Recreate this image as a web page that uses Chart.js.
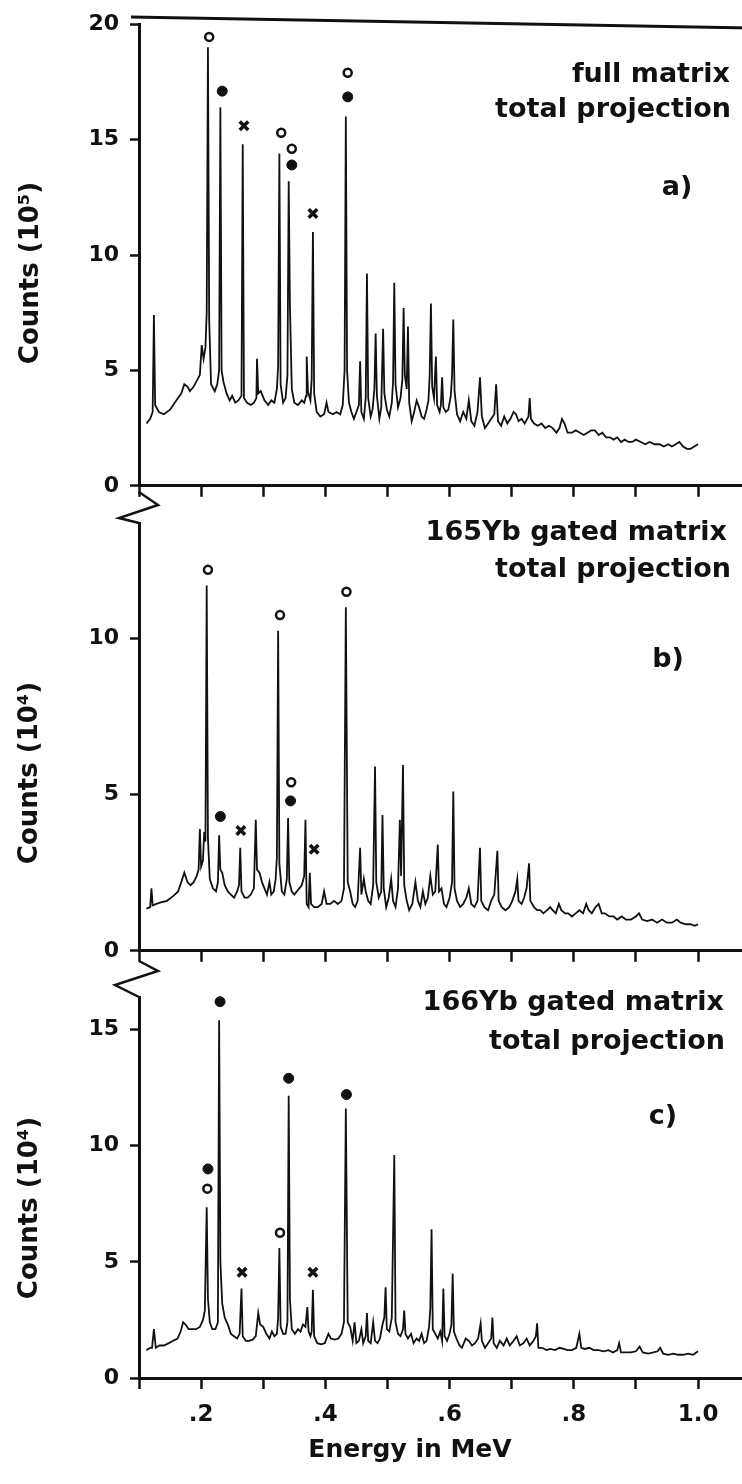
<!DOCTYPE html>
<html><head><meta charset="utf-8">
<script src="https://cdn.jsdelivr.net/npm/chart.js@4.4.1/dist/chart.umd.min.js"></script>
<style>
html,body{margin:0;padding:0;background:#fff;}
body{width:742px;height:1484px;position:relative;overflow:hidden;}
canvas{position:absolute;left:0;}
</style></head><body>
<canvas id="ca" width="751" height="510" style="top:0px"></canvas>
<canvas id="cb" width="751" height="495" style="top:480px"></canvas>
<canvas id="cc" width="751" height="534" style="top:950px"></canvas>
<script>
// ---------- data (energy in MeV, counts) ----------
const spectrumA = [[0.112,2.7],[0.118,2.9],[0.122,3.2],[0.124,7.4],[0.126,3.5],[0.132,3.2],[0.140,3.1],[0.150,3.3],[0.160,3.7],[0.168,4.0],[0.173,4.4],[0.178,4.3],[0.182,4.1],[0.188,4.3],[0.194,4.6],[0.198,4.8],[0.201,6.1],[0.204,5.5],[0.207,6.0],[0.209,7.5],[0.211,19.0],[0.213,7.2],[0.216,4.4],[0.222,4.1],[0.226,4.4],[0.229,5.0],[0.231,16.4],[0.233,5.0],[0.236,4.5],[0.241,4.0],[0.246,3.7],[0.250,3.9],[0.255,3.6],[0.260,3.7],[0.265,3.9],[0.267,14.8],[0.269,3.8],[0.274,3.6],[0.280,3.5],[0.285,3.6],[0.289,3.8],[0.290,5.5],[0.292,4.0],[0.296,4.1],[0.302,3.7],[0.308,3.5],[0.313,3.7],[0.318,3.6],[0.322,4.2],[0.324,5.2],[0.326,14.4],[0.328,4.4],[0.332,3.6],[0.336,3.8],[0.339,4.8],[0.341,13.2],[0.343,7.8],[0.346,4.2],[0.350,3.6],[0.356,3.5],[0.362,3.7],[0.366,3.6],[0.369,3.9],[0.370,5.6],[0.372,4.1],[0.376,3.7],[0.378,4.6],[0.380,11.0],[0.382,4.0],[0.386,3.2],[0.392,3.0],[0.398,3.1],[0.402,3.6],[0.405,3.2],[0.412,3.1],[0.418,3.2],[0.424,3.1],[0.428,3.5],[0.431,5.0],[0.433,16.0],[0.435,5.0],[0.438,3.6],[0.442,3.2],[0.446,2.9],[0.450,3.2],[0.454,3.5],[0.456,5.4],[0.458,3.2],[0.462,2.9],[0.465,3.8],[0.467,9.2],[0.469,3.8],[0.473,3.0],[0.476,3.3],[0.479,4.2],[0.481,6.6],[0.483,3.9],[0.487,2.9],[0.490,3.4],[0.493,6.8],[0.495,4.0],[0.499,3.3],[0.503,3.0],[0.507,3.6],[0.509,4.5],[0.511,8.8],[0.513,4.4],[0.517,3.4],[0.521,3.8],[0.524,4.6],[0.526,7.7],[0.528,4.8],[0.531,4.2],[0.533,6.9],[0.535,3.6],[0.539,2.8],[0.543,3.2],[0.547,3.7],[0.551,3.4],[0.555,3.0],[0.559,2.9],[0.563,3.3],[0.566,3.7],[0.568,4.8],[0.570,7.9],[0.572,4.3],[0.575,3.8],[0.578,5.6],[0.580,3.5],[0.584,3.2],[0.586,3.5],[0.588,4.7],[0.590,3.4],[0.594,3.2],[0.598,3.3],[0.602,3.9],[0.604,4.8],[0.606,7.2],[0.608,4.1],[0.612,3.1],[0.617,2.8],[0.622,3.2],[0.627,2.9],[0.631,3.7],[0.635,2.8],[0.640,2.6],[0.645,3.2],[0.649,4.7],[0.652,3.0],[0.657,2.5],[0.662,2.7],[0.667,2.9],[0.672,3.1],[0.675,4.4],[0.678,2.8],[0.683,2.6],[0.688,3.0],[0.693,2.7],[0.698,2.9],[0.703,3.2],[0.707,3.1],[0.711,2.8],[0.716,2.9],[0.721,2.7],[0.727,3.0],[0.729,3.8],[0.731,2.9],[0.736,2.7],[0.742,2.6],[0.748,2.7],[0.754,2.5],[0.760,2.6],[0.766,2.5],[0.772,2.3],[0.777,2.5],[0.781,2.9],[0.785,2.7],[0.790,2.3],[0.797,2.3],[0.803,2.4],[0.810,2.3],[0.816,2.2],[0.822,2.3],[0.828,2.4],[0.834,2.4],[0.840,2.2],[0.846,2.3],[0.852,2.1],[0.858,2.1],[0.864,2.0],[0.870,2.1],[0.876,1.9],[0.882,2.0],[0.888,1.9],[0.894,1.9],[0.900,2.0],[0.908,1.9],[0.915,1.8],[0.922,1.9],[0.930,1.8],[0.938,1.8],[0.945,1.7],[0.952,1.8],[0.958,1.7],[0.964,1.8],[0.970,1.9],[0.976,1.7],[0.982,1.6],[0.988,1.6],[0.994,1.7],[1.000,1.8]];

const spectrumB = [[0.112,1.35],[0.118,1.4],[0.120,2.0],[0.122,1.45],[0.128,1.5],[0.135,1.55],[0.145,1.6],[0.155,1.75],[0.163,1.9],[0.168,2.2],[0.173,2.5],[0.178,2.2],[0.183,2.1],[0.188,2.2],[0.193,2.4],[0.196,2.6],[0.198,3.9],[0.200,2.7],[0.203,2.9],[0.205,3.8],[0.207,3.5],[0.209,11.7],[0.211,3.6],[0.214,2.3],[0.219,2.0],[0.224,1.9],[0.227,2.2],[0.229,3.7],[0.231,2.6],[0.234,2.5],[0.238,2.1],[0.243,1.9],[0.248,1.8],[0.253,1.7],[0.258,1.9],[0.261,2.1],[0.263,3.3],[0.265,1.9],[0.270,1.7],[0.275,1.7],[0.280,1.8],[0.285,2.0],[0.288,4.2],[0.290,2.6],[0.294,2.5],[0.298,2.2],[0.302,2.0],[0.306,1.8],[0.310,2.2],[0.313,1.8],[0.317,1.9],[0.320,2.3],[0.322,3.0],[0.324,10.25],[0.326,2.8],[0.330,1.9],[0.334,1.8],[0.338,2.3],[0.340,4.25],[0.342,2.2],[0.346,1.9],[0.350,1.8],[0.354,1.9],[0.358,2.0],[0.362,2.1],[0.366,2.4],[0.368,4.2],[0.370,1.5],[0.373,1.4],[0.375,2.5],[0.377,1.5],[0.382,1.4],[0.388,1.4],[0.394,1.5],[0.398,1.9],[0.402,1.5],[0.408,1.5],[0.414,1.6],[0.420,1.5],[0.426,1.6],[0.430,2.0],[0.433,11.0],[0.436,2.2],[0.440,1.9],[0.444,1.5],[0.448,1.4],[0.452,1.6],[0.456,3.3],[0.458,1.8],[0.462,2.3],[0.465,1.9],[0.469,1.6],[0.473,1.5],[0.477,2.1],[0.480,5.9],[0.482,2.2],[0.486,1.7],[0.490,1.9],[0.492,4.35],[0.494,2.0],[0.498,1.4],[0.502,1.7],[0.506,2.3],[0.509,1.6],[0.513,1.4],[0.517,2.0],[0.520,4.2],[0.522,2.4],[0.525,5.95],[0.527,2.1],[0.531,1.6],[0.535,1.3],[0.540,1.5],[0.545,2.2],[0.549,1.6],[0.553,1.4],[0.557,1.9],[0.561,1.5],[0.565,1.7],[0.569,2.4],[0.573,1.8],[0.577,1.9],[0.581,3.4],[0.583,1.9],[0.587,2.0],[0.591,1.5],[0.595,1.4],[0.600,1.7],[0.604,2.2],[0.606,5.1],[0.608,2.0],[0.612,1.6],[0.617,1.4],[0.622,1.5],[0.627,1.7],[0.631,2.0],[0.635,1.5],[0.640,1.4],[0.645,1.6],[0.649,3.3],[0.651,1.6],[0.656,1.4],[0.662,1.3],[0.667,1.6],[0.672,1.8],[0.677,3.2],[0.679,1.6],[0.684,1.4],[0.690,1.3],[0.696,1.4],[0.701,1.6],[0.706,1.9],[0.709,2.3],[0.711,1.6],[0.716,1.5],[0.720,1.7],[0.724,2.0],[0.728,2.8],[0.730,1.6],[0.736,1.4],[0.741,1.3],[0.746,1.3],[0.751,1.2],[0.757,1.3],[0.762,1.4],[0.766,1.3],[0.771,1.2],[0.776,1.5],[0.780,1.3],[0.786,1.2],[0.791,1.2],[0.797,1.1],[0.803,1.2],[0.809,1.3],[0.815,1.2],[0.820,1.5],[0.824,1.3],[0.829,1.2],[0.835,1.4],[0.840,1.5],[0.845,1.2],[0.850,1.2],[0.857,1.1],[0.864,1.1],[0.870,1.0],[0.877,1.1],[0.884,1.0],[0.892,1.0],[0.900,1.1],[0.905,1.2],[0.910,1.0],[0.918,0.95],[0.926,1.0],[0.934,0.9],[0.942,1.0],[0.950,0.9],[0.958,0.9],[0.966,1.0],[0.972,0.9],[0.980,0.85],[0.988,0.85],[0.995,0.8],[1.000,0.85]];

const spectrumC = [[0.112,1.2],[0.118,1.3],[0.121,1.3],[0.124,2.1],[0.127,1.3],[0.133,1.4],[0.140,1.4],[0.148,1.5],[0.155,1.6],[0.162,1.7],[0.167,2.0],[0.171,2.4],[0.175,2.3],[0.180,2.1],[0.186,2.1],[0.192,2.1],[0.198,2.2],[0.203,2.5],[0.206,2.9],[0.209,7.35],[0.211,3.4],[0.214,2.4],[0.218,2.1],[0.223,2.1],[0.227,2.4],[0.229,15.4],[0.231,5.0],[0.234,3.2],[0.238,2.6],[0.243,2.3],[0.248,1.9],[0.253,1.8],[0.258,1.7],[0.262,1.9],[0.265,3.85],[0.267,1.8],[0.272,1.6],[0.277,1.6],[0.283,1.65],[0.288,1.8],[0.292,2.8],[0.295,2.3],[0.300,2.2],[0.305,1.9],[0.310,1.7],[0.314,2.0],[0.318,1.8],[0.322,1.9],[0.324,2.6],[0.326,5.6],[0.328,2.2],[0.332,1.9],[0.336,1.9],[0.339,2.4],[0.341,12.15],[0.343,3.4],[0.346,2.1],[0.351,1.9],[0.356,2.1],[0.360,2.0],[0.364,2.3],[0.368,2.2],[0.371,3.05],[0.373,2.0],[0.376,1.8],[0.378,2.0],[0.380,3.8],[0.382,1.8],[0.387,1.5],[0.393,1.45],[0.399,1.5],[0.405,1.9],[0.409,1.7],[0.415,1.65],[0.421,1.7],[0.426,1.9],[0.430,2.4],[0.433,11.6],[0.436,2.4],[0.440,2.2],[0.444,1.6],[0.447,2.4],[0.450,1.5],[0.454,1.6],[0.458,2.1],[0.461,1.5],[0.465,1.8],[0.467,2.8],[0.469,1.6],[0.473,1.5],[0.477,2.4],[0.480,1.6],[0.484,1.5],[0.488,1.7],[0.492,2.3],[0.495,2.6],[0.497,3.9],[0.499,2.1],[0.503,2.0],[0.507,2.6],[0.511,9.6],[0.513,2.4],[0.517,1.9],[0.521,1.8],[0.525,2.1],[0.527,2.9],[0.529,1.9],[0.533,1.7],[0.538,1.9],[0.542,1.5],[0.547,1.7],[0.551,1.6],[0.555,1.9],[0.559,1.5],[0.563,1.6],[0.567,2.2],[0.569,3.0],[0.571,6.4],[0.573,2.1],[0.577,1.9],[0.581,1.7],[0.585,2.0],[0.588,1.6],[0.590,3.85],[0.592,1.8],[0.596,1.6],[0.600,1.9],[0.603,2.3],[0.605,4.5],[0.607,2.0],[0.611,1.7],[0.616,1.4],[0.620,1.3],[0.626,1.7],[0.631,1.6],[0.636,1.4],[0.641,1.5],[0.646,1.7],[0.650,2.35],[0.652,1.6],[0.657,1.3],[0.662,1.5],[0.667,1.7],[0.669,2.6],[0.671,1.5],[0.676,1.3],[0.681,1.6],[0.687,1.4],[0.692,1.7],[0.697,1.4],[0.703,1.6],[0.708,1.8],[0.713,1.4],[0.719,1.5],[0.724,1.7],[0.729,1.4],[0.735,1.6],[0.739,1.8],[0.741,2.35],[0.743,1.3],[0.749,1.3],[0.756,1.2],[0.762,1.25],[0.770,1.2],[0.777,1.3],[0.784,1.25],[0.790,1.2],[0.797,1.2],[0.804,1.3],[0.809,1.9],[0.812,1.3],[0.818,1.25],[0.825,1.3],[0.832,1.2],[0.840,1.2],[0.848,1.15],[0.856,1.2],[0.863,1.1],[0.870,1.2],[0.873,1.5],[0.876,1.1],[0.884,1.1],[0.892,1.1],[0.900,1.15],[0.906,1.35],[0.911,1.1],[0.920,1.05],[0.928,1.1],[0.935,1.15],[0.939,1.3],[0.944,1.05],[0.952,1.0],[0.960,1.05],[0.968,1.0],[0.976,1.0],[0.984,1.05],[0.992,1.0],[1.000,1.15]];

// peak markers: [energy, level]
const openA  = [[0.213,19.45],[0.329,15.3],[0.346,14.6],[0.436,17.9]];
const dotA   = [[0.234,17.1],[0.346,13.9],[0.436,16.85]];
const crossA = [[0.269,15.6],[0.380,11.8]];
const openB  = [[0.211,12.2],[0.327,10.75],[0.345,5.4],[0.434,11.5]];
const dotB   = [[0.231,4.3],[0.344,4.8]];
const crossB = [[0.264,3.85],[0.382,3.25]];
const openC  = [[0.210,8.15],[0.327,6.25]];
const dotC   = [[0.211,9.0],[0.2305,16.2],[0.341,12.9],[0.434,12.2]];
const crossC = [[0.266,4.55],[0.380,4.55]];

// axes
const xTicks = [0.1,0.2,0.3,0.4,0.5,0.6,0.7,0.8,0.9,1.0];
const xLabelValues = [0.2,0.4,0.6,0.8,1.0];
const xLabelTexts = ['.2','.4','.6','.8','1.0'];
const yTicksA = [0,5,10,15,20];
const yTicksB = [0,5,10];
const yTicksC = [0,5,10,15];
const yMax = [20,13.7,16.4];

// texts
const panelLines = [['full matrix','total projection'],['165Yb gated matrix','total projection'],['166Yb gated matrix','total projection']];
const panelTags = ['a)','b)','c)'];
const yTitles = ['Counts (10\u2075)','Counts (10\u2074)','Counts (10\u2074)'];
const xTitle = 'Energy in MeV';

// ---------- rendering ----------
const INK = '#111';
const FONT = '"DejaVu Sans", "Liberation Sans", sans-serif';
const toXY = arr => arr.map(p => ({x:p[0], y:p[1]}));

function deco(opts){
  return {
    id:'deco'+opts.idx,
    afterDraw(chart){
      const ctx = chart.ctx, top = opts.canvasTop;
      ctx.save();
      ctx.fillStyle = INK; ctx.strokeStyle = INK;
      ctx.font = 'bold 27px ' + FONT;
      ctx.textAlign = 'right'; ctx.textBaseline = 'middle';
      opts.lineY.forEach((y,i)=> ctx.fillText(panelLines[opts.idx][i], opts.rightX[i], y - top));
      ctx.textAlign = 'center';
      ctx.fillText(panelTags[opts.idx], opts.tag[0], opts.tag[1] - top);
      ctx.save();
      ctx.font = 'bold 26px ' + FONT;
      ctx.translate(opts.yTitle[0], opts.yTitle[1] - top);
      ctx.rotate(-Math.PI/2);
      ctx.textAlign = 'center'; ctx.textBaseline = 'middle';
      ctx.fillText(yTitles[opts.idx], 0, 0);
      ctx.restore();
      if (opts.zig){
        ctx.lineWidth = 2.5; ctx.lineJoin = 'miter';
        ctx.beginPath();
        opts.zig.forEach((p,i)=>{ const yy = p[1]-top; if(i===0) ctx.moveTo(p[0],yy); else ctx.lineTo(p[0],yy); });
        ctx.stroke();
      }
      if (opts.topLine){
        ctx.lineWidth = 3;
        ctx.beginPath();
        ctx.moveTo(opts.topLine[0], opts.topLine[1]-top);
        ctx.lineTo(opts.topLine[2], opts.topLine[3]-top);
        ctx.stroke();
      }
      if (opts.xTitle){
        ctx.font = 'bold 25px ' + FONT;
        ctx.textAlign = 'center'; ctx.textBaseline = 'middle';
        ctx.fillText(xTitle, opts.xTitle[0], opts.xTitle[1] - top);
      }
      ctx.restore();
    }
  };
}

function makeChart(id, idx, spec, open, dot, cross, yTicks, opts){
  const showX = !!opts.xTitle;
  return new Chart(document.getElementById(id), {
    type:'scatter',
    data:{ datasets:[
      { data: toXY(spec), showLine:true, borderColor:INK, borderWidth:1.8, pointRadius:0, tension:0, order:3 },
      { data: toXY(open), pointStyle:'circle', pointRadius:4, borderWidth:2.5, borderColor:INK, backgroundColor:'#fff', clip:false, order:1 },
      { data: toXY(dot), pointStyle:'circle', pointRadius:5, borderWidth:1, borderColor:INK, backgroundColor:INK, clip:false, order:1 },
      { data: toXY(cross), pointStyle:'crossRot', pointRadius:6, borderWidth:3.5, borderColor:INK, backgroundColor:INK, clip:false, order:1 }
    ]},
    options:{
      responsive:false, animation:false, events:[], devicePixelRatio:1,
      layout:{ padding:{ top:opts.padTop, left:0, right:0, bottom:0 } },
      plugins:{ legend:{display:false}, tooltip:{enabled:false} },
      scales:{
        x:{ type:'linear', min:0.1, max:1.07, position:'bottom',
            afterBuildTicks: s => { s.ticks = xTicks.map(v=>({value:v})); },
            afterFit: s => { s.height = opts.xHeight; },
            border:{ display:true, width:3, color:INK },
            grid:{ drawOnChartArea:false, drawTicks:true, tickLength:11, tickWidth:2.5, tickColor:INK, color:INK },
            ticks:{ autoSkip:false, maxRotation:0, padding:12, color:INK, font:{ family:FONT, weight:'bold', size:23 },
                    callback: v => { if(!showX) return ''; const i = xLabelValues.findIndex(t=>Math.abs(t-v)<1e-6); return i>=0 ? xLabelTexts[i] : ''; } } },
        y:{ type:'linear', min:0, max:yMax[idx],
            afterBuildTicks: s => { s.ticks = yTicks.map(v=>({value:v})); },
            afterFit: s => { s.width = 139; },
            border:{ display:true, width:3, color:INK },
            grid:{ drawOnChartArea:false, drawTicks:true, tickLength:9, tickWidth:2.5, tickColor:INK, color:INK },
            ticks:{ padding:11, color:INK, font:{ family:FONT, weight:'bold', size:22 }, callback: v => String(v) } }
      }
    },
    plugins:[deco(Object.assign({idx}, opts))]
  });
}

makeChart('ca', 0, spectrumA, openA, dotA, crossA, yTicksA, {
  canvasTop:0, padTop:17, xHeight:17,
  lineY:[75,110], rightX:[730,731], tag:[677,188], yTitle:[31,273],
  topLine:[131,17,751,28]
});
makeChart('cb', 1, spectrumB, openB, dotB, crossB, yTicksB, {
  canvasTop:480, padTop:43, xHeight:13,
  lineY:[533,570], rightX:[727,731], tag:[668,660], yTitle:[30,773],
  zig:[[139,492],[158,505],[119,518],[139,523]]
});
makeChart('cc', 2, spectrumC, openC, dotC, crossC, yTicksC, {
  canvasTop:950, padTop:47, xHeight:106,
  lineY:[1003,1042], rightX:[724,725], tag:[663,1117], yTitle:[30,1208],
  zig:[[139,961],[158,971],[115,985],[139,997]],
  xTitle:[410,1450]
});
</script>
</body></html>
